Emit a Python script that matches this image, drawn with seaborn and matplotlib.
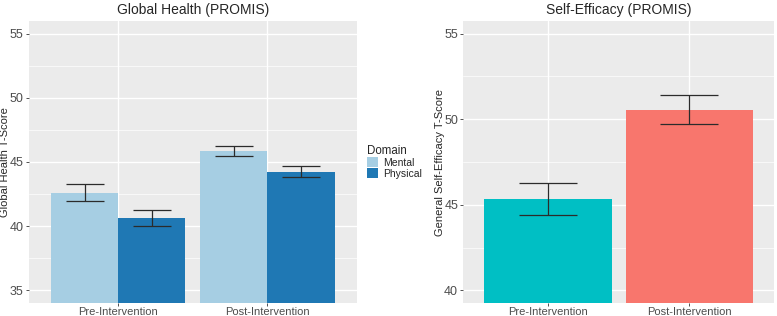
import matplotlib
matplotlib.use("Agg")
import matplotlib.pyplot as plt
import pandas as pd
import seaborn as sns
from matplotlib.ticker import MultipleLocator

# Global Health (PROMIS)
phases = ["Pre-Intervention", "Post-Intervention"]
domains = ["Mental", "Physical"]
gh_mean = {"Mental": [42.6, 45.87], "Physical": [40.62, 44.25]}
gh_low = {"Mental": [41.93, 45.5], "Physical": [39.98, 43.84]}
gh_high = {"Mental": [43.28, 46.25], "Physical": [41.26, 44.7]}

# Self-Efficacy (PROMIS)
se_mean = [45.36, 50.54]
se_low = [44.43, 49.7]
se_high = [46.28, 51.4]

domain_colors = ["#a6cee3", "#1f78b4"]
phase_colors = ["#00bfc4", "#f8766d"]

sns.set_theme(style="darkgrid")
plt.rcParams.update({
    "font.family": ["Liberation Sans", "DejaVu Sans"],
    "axes.facecolor": "#ebebeb",
    "grid.color": "white",
    "axes.edgecolor": "none",
    "xtick.color": "#333333",
    "ytick.color": "#333333",
    "xtick.labelcolor": "#4d4d4d",
    "ytick.labelcolor": "#4d4d4d",
    "xtick.major.size": 2.5,
    "ytick.major.size": 2.5,
    "xtick.major.width": 0.6,
    "ytick.major.width": 0.6,
    "xtick.major.pad": 0.2,
    "ytick.major.pad": 1.2,
    "xtick.bottom": True,
    "ytick.left": True,
})

gh = pd.DataFrame([
    {"phase": p, "domain": d, "score": gh_mean[d][i],
     "lo": gh_low[d][i], "hi": gh_high[d][i]}
    for d in domains for i, p in enumerate(phases)
])
se = pd.DataFrame({"phase": phases, "score": se_mean, "lo": se_low, "hi": se_high})

W, H = 777, 316
fig = plt.figure(figsize=(W / 100, H / 100), dpi=100)
ax1 = fig.add_axes([28.7 / W, (H - 303.3) / H, (357 - 28.7) / W, (303.3 - 20.7) / H])
ax2 = fig.add_axes([463.3 / W, (H - 303.3) / H, (774 - 463.3) / W, (303.3 - 20.7) / H])

sns.barplot(data=gh, x="phase", y="score", hue="domain", order=phases,
            hue_order=domains, palette=domain_colors, width=0.9, gap=0,
            errorbar=None, saturation=1, linewidth=0, ax=ax1)
for cont, d in zip(ax1.containers, domains):
    sub = gh[gh["domain"] == d].set_index("phase").loc[phases]
    xs = [b.get_x() + b.get_width() / 2 for b in cont]
    ax1.errorbar(xs, sub["score"], yerr=[sub["score"] - sub["lo"], sub["hi"] - sub["score"]],
                 fmt="none", ecolor="#2b2b2b", elinewidth=0.9, capsize=13.5, capthick=0.9)

sns.barplot(data=se, x="phase", y="score", hue="phase", order=phases,
            palette=phase_colors, width=0.9, errorbar=None, saturation=1,
            linewidth=0, legend=False, ax=ax2)
xs = [p.get_x() + p.get_width() / 2 for c in ax2.containers for p in c]
ax2.errorbar(xs, se["score"], yerr=[se["score"] - se["lo"], se["hi"] - se["score"]],
             fmt="none", ecolor="#2b2b2b", elinewidth=0.9, capsize=20.7, capthick=0.9)

for ax, lo, hi in [(ax1, 35, 55), (ax2, 40, 55)]:
    r = hi - lo
    ax.set_ylim(lo - 0.05 * r, hi + 0.05 * r)
    ax.set_xlim(-0.6, 1.6)
    ax.yaxis.set_major_locator(MultipleLocator(5))
    ax.yaxis.set_minor_locator(MultipleLocator(2.5))
    ax.grid(which="major", color="white", linewidth=1.0)
    ax.grid(which="minor", axis="y", color="white", linewidth=0.5)
    ax.tick_params(which="minor", left=False)
    ax.tick_params(axis="y", labelsize=9)
    ax.tick_params(axis="x", labelsize=8)
    ax.set_xlabel("")
    ax.set_axisbelow(True)

ax1.set_ylabel("Global Health T-Score", fontsize=8)
ax2.set_ylabel("General Self-Efficacy T-Score", fontsize=8)
ax1.yaxis.set_label_coords(-0.057, 0.5)
ax2.yaxis.set_label_coords(-0.06, 0.5)
ax1.set_title("Global Health (PROMIS)", fontsize=10, pad=4.5)
ax2.set_title("Self-Efficacy (PROMIS)", fontsize=10, pad=4.5)

sns.move_legend(ax1, "center left", bbox_to_anchor=(1.03, 0.5), frameon=False,
                title="Domain", fontsize=7.5, title_fontsize=8.3, handlelength=1.05,
                handleheight=1.1, handletextpad=0.5, labelspacing=0.0,
                borderaxespad=0, borderpad=0)
leg = ax1.get_legend()
leg._legend_box.align = "left"

fig.savefig("out.png", dpi=100)
